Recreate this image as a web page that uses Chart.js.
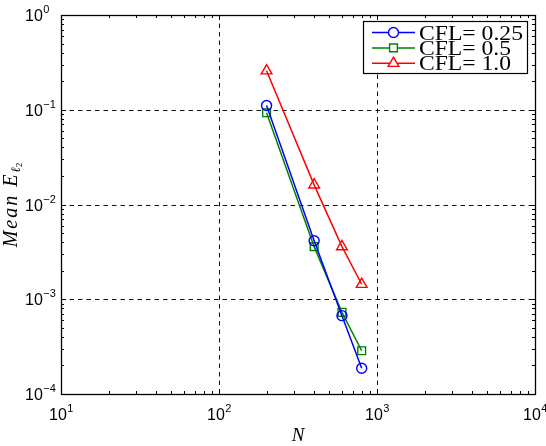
<!DOCTYPE html>
<html>
<head>
<meta charset="utf-8">
<script src="https://cdn.jsdelivr.net/npm/chart.js@4/dist/chart.umd.min.js"></script>
<style>
html,body{margin:0;padding:0;background:#fff;}
#wrap{position:relative;width:546px;height:446px;}
</style>
</head>
<body>
<div id="wrap"><canvas id="c" width="546" height="446"></canvas></div>
<script>
// ---- data ----
const N = [200, 400, 600, 800];
const cfl025 = [0.111, 0.00415, 0.000671, 0.000187];
const cfl05 = [0.093, 0.00359, 0.000728, 0.000286];
const cfl10 = [0.258, 0.0161, 0.00359, 0.00144];
const seriesLabels = ['CFL= 0.25', 'CFL= 0.5', 'CFL= 1.0'];
const xTickExp = [1, 2, 3, 4];
const yTickExp = [0, -1, -2, -3, -4];

const colors = ['#0000ff', '#008000', '#ff0000'];
const styles = [
  {pointStyle: 'circle', radius: 5},
  {pointStyle: 'rect', radius: 5.5},
  {pointStyle: 'triangle', radius: 6.2}
];
const seriesVals = [cfl025, cfl05, cfl10];

const datasets = seriesVals.map((vals, i) => ({
  label: seriesLabels[i],
  data: N.map((n, k) => ({x: n, y: vals[k]})),
  borderColor: colors[i],
  backgroundColor: 'rgba(0,0,0,0)',
  borderWidth: 1.5,
  pointStyle: styles[i].pointStyle,
  pointRadius: styles[i].radius,
  pointBorderWidth: 1.4,
  pointBorderColor: colors[i],
  pointBackgroundColor: 'rgba(0,0,0,0)',
  tension: 0
}));

const decorPlugin = {
  id: 'decor',
  beforeDatasetsDraw(chart) {
    const ctx = chart.ctx, a = chart.chartArea;
    const xs = chart.scales.x, ys = chart.scales.y;
    ctx.save();
    ctx.strokeStyle = '#111';
    ctx.lineWidth = 1;
    ctx.setLineDash([4.5, 4]);
    xTickExp.forEach(e => {
      const px = Math.round(xs.getPixelForValue(Math.pow(10, e))) + 0.5;
      if (px > a.left + 2 && px < a.right - 2) {
        ctx.beginPath(); ctx.moveTo(px, a.top); ctx.lineTo(px, a.bottom); ctx.stroke();
      }
    });
    yTickExp.forEach(e => {
      const py = Math.round(ys.getPixelForValue(Math.pow(10, e))) + 0.5;
      if (py > a.top + 2 && py < a.bottom - 2) {
        ctx.beginPath(); ctx.moveTo(a.left, py); ctx.lineTo(a.right, py); ctx.stroke();
      }
    });
    ctx.setLineDash([]);
    ctx.restore();
  },
  afterDatasetsDraw(chart) {
    const ctx = chart.ctx, a = chart.chartArea;
    const xs = chart.scales.x, ys = chart.scales.y;
    ctx.save();
    ctx.strokeStyle = '#000';
    ctx.lineWidth = 1;
    ctx.beginPath();
    for (let e = xTickExp[0]; e <= xTickExp[xTickExp.length - 1]; e++) {
      for (let m = 1; m <= 9; m++) {
        const v = m * Math.pow(10, e);
        if (v > Math.pow(10, xTickExp[xTickExp.length - 1])) continue;
        const px = Math.round(xs.getPixelForValue(v)) + 0.5;
        const len = m === 1 ? 5 : 3;
        ctx.moveTo(px, a.bottom); ctx.lineTo(px, a.bottom - len);
        ctx.moveTo(px, a.top); ctx.lineTo(px, a.top + len);
      }
    }
    for (let e = yTickExp[yTickExp.length - 1]; e <= yTickExp[0]; e++) {
      for (let m = 1; m <= 9; m++) {
        const v = m * Math.pow(10, e);
        if (v > Math.pow(10, yTickExp[0])) continue;
        const py = Math.round(ys.getPixelForValue(v)) + 0.5;
        const len = m === 1 ? 5 : 3;
        ctx.moveTo(a.left, py); ctx.lineTo(a.left + len, py);
        ctx.moveTo(a.right, py); ctx.lineTo(a.right - len, py);
      }
    }
    ctx.stroke();
    ctx.lineWidth = 1.3;
    ctx.strokeRect(Math.round(a.left) + 0.5, Math.round(a.top) + 0.5, Math.round(a.right - a.left), Math.round(a.bottom - a.top));

    // tick labels
    ctx.fillStyle = '#000';
    ctx.textBaseline = 'alphabetic';
    const big = '16px "Liberation Sans", Arial, sans-serif';
    const small = '11px "Liberation Sans", Arial, sans-serif';
    const supStr = e => (e < 0 ? '\u2212' + (-e) : String(e));
    xTickExp.forEach(e => {
      const px = xs.getPixelForValue(Math.pow(10, e));
      ctx.font = big; const w1 = ctx.measureText('10').width;
      ctx.font = small; const w2 = ctx.measureText(supStr(e)).width;
      const x0 = px - (w1 + w2) / 2;
      ctx.font = big; ctx.textAlign = 'left';
      ctx.fillText('10', x0, a.bottom + 26);
      ctx.font = small;
      ctx.fillText(supStr(e), x0 + w1 + 0.5, a.bottom + 18);
    });
    yTickExp.forEach(e => {
      const py = ys.getPixelForValue(Math.pow(10, e));
      ctx.font = big; ctx.textAlign = 'left';
      const w1 = ctx.measureText('10').width;
      const x0 = 25;
      ctx.fillText('10', x0, py + 6);
      ctx.font = small;
      ctx.fillText(supStr(e), x0 + w1 + 0.5, py - 2);
    });

    // axis titles
    ctx.font = 'italic 19px "Liberation Serif", "DejaVu Serif", serif';
    ctx.textAlign = 'center';
    ctx.fillText('N', (a.left + a.right) / 2, 441);

    ctx.save();
    ctx.translate(17, 205);
    ctx.rotate(-Math.PI / 2);
    const f1 = 'italic 20px "Liberation Serif", "DejaVu Serif", serif';
    const f2 = 'italic 13px "Liberation Serif", "DejaVu Serif", serif';
    const f3 = '9px "Liberation Serif", "DejaVu Serif", serif';
    const chars = ['M', 'e', 'a', 'n', ' ', 'E'];
    ctx.font = f1;
    const cw = chars.map(ch => ctx.measureText(ch).width);
    ctx.font = f2; const tw2 = ctx.measureText('\u2113').width;
    ctx.font = f3; const tw3 = ctx.measureText('2').width;
    const base = cw.reduce((s, w) => s + w, 0) + tw2 + tw3;
    const gap = Math.max(0, Math.min(2, (88 - base) / 6));
    const total = base + gap * 6;
    let x = -total / 2;
    ctx.textAlign = 'left';
    ctx.font = f1;
    chars.forEach((ch, k) => { ctx.fillText(ch, x, 0); x += cw[k] + gap; });
    ctx.font = f2; ctx.fillText('\u2113', x, 3); x += tw2;
    ctx.font = f3; ctx.fillText('2', x, 5);
    ctx.restore();

    // legend
    const lx = 363.5, ly = 21.5, lw = 164, lh = 52;
    ctx.fillStyle = '#fff';
    ctx.fillRect(lx, ly, lw, lh);
    ctx.strokeStyle = '#000';
    ctx.lineWidth = 1.2;
    ctx.strokeRect(lx, ly, lw, lh);
    chart.data.datasets.forEach((ds, i) => {
      const yy = 32.5 + i * 15.4;
      ctx.strokeStyle = ds.borderColor;
      ctx.lineWidth = 1.5;
      ctx.beginPath(); ctx.moveTo(372, yy); ctx.lineTo(415, yy); ctx.stroke();
      ctx.lineWidth = 1.4;
      ctx.fillStyle = 'rgba(255,255,255,1)';
      Chart.helpers.drawPoint(ctx, {pointStyle: ds.pointStyle, radius: ds.pointRadius, rotation: 0, borderWidth: 1.4}, 393.5, yy);
      ctx.fillStyle = '#000';
      ctx.font = '20px "Liberation Serif", "DejaVu Serif", serif';
      ctx.textAlign = 'left';
      const tw = ctx.measureText(ds.label).width;
      const target = [104, 92, 92][i];
      ctx.save();
      ctx.translate(419, yy + 7);
      ctx.scale(Math.min(1.25, target / tw), 1);
      ctx.fillText(ds.label, 0, 0);
      ctx.restore();
    });
    ctx.restore();
  }
};

new Chart(document.getElementById('c'), {
  type: 'line',
  data: {datasets},
  options: {
    responsive: false,
    animation: false,
    devicePixelRatio: 1,
    layout: {padding: {left: 61, right: 11, top: 15, bottom: 52}},
    plugins: {legend: {display: false}, tooltip: {enabled: false}},
    elements: {line: {fill: false}},
    scales: {
      x: {
        type: 'logarithmic',
        min: Math.pow(10, xTickExp[0]),
        max: Math.pow(10, xTickExp[xTickExp.length - 1]),
        ticks: {display: false},
        grid: {display: false, drawTicks: false},
        border: {display: false},
        afterFit: s => { s.height = 0; }
      },
      y: {
        type: 'logarithmic',
        min: Math.pow(10, yTickExp[yTickExp.length - 1]),
        max: Math.pow(10, yTickExp[0]),
        ticks: {display: false},
        grid: {display: false, drawTicks: false},
        border: {display: false},
        afterFit: s => { s.width = 0; }
      }
    }
  },
  plugins: [decorPlugin]
});
</script>
</body>
</html>
